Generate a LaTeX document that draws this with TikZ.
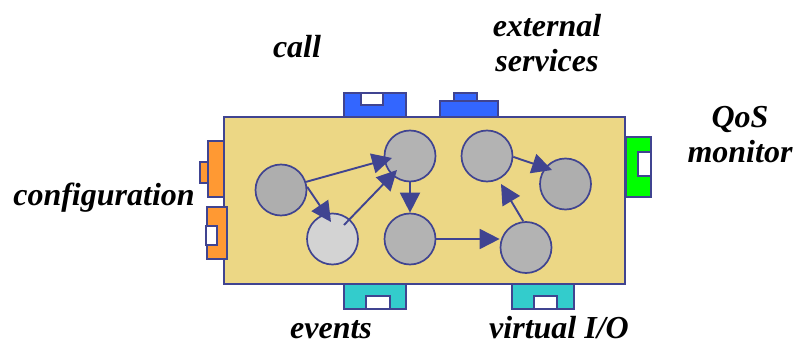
\documentclass[tikz,border=0pt]{standalone}
\usepackage{fontspec}
\setmainfont{Liberation Serif}
\newfontfamily\portfont{Liberation Serif}
\usetikzlibrary{arrows.meta,calc}
\definecolor{edge}{RGB}{64,68,145}
\definecolor{panel}{RGB}{236,215,133}
\definecolor{portblue}{RGB}{51,102,255}
\definecolor{portorange}{RGB}{255,153,51}
\definecolor{portcyan}{RGB}{51,204,204}
\definecolor{portgreen}{RGB}{0,255,0}
\definecolor{midgray}{RGB}{179,179,179}
\definecolor{softgray}{RGB}{211,211,211}
\definecolor{dotgray}{RGB}{174,174,174}
\begin{document}
\begin{tikzpicture}[x=1pt,y=-1pt,
  blob/.style={circle,draw=edge,line width=1.7pt,fill=midgray,minimum size=51pt,inner sep=0pt},
  flow/.style={draw=edge,line width=1.9pt,-{Triangle[length=20pt,width=20pt]}},
  port/.style={draw=edge,line width=1.3pt},
  hole/.style={draw=edge,line width=1.3pt,fill=white},
  lbl/.style={font=\portfont\fontsize{32}{35}\selectfont\bfseries\itshape,anchor=base,inner sep=0pt}]
\useasboundingbox (0,0) rectangle (795,350);

% component body
\draw[draw=edge,line width=1.8pt,fill=panel] (224,117) rectangle (625,284);

% call port (top)
\draw[port,fill=portblue] (344,93) rectangle (406,117);
\draw[hole] (361,93) rectangle (383,105);
% external services port (top)
\draw[port,fill=portblue] (440,101) rectangle (498,117);
\draw[port,fill=portblue] (454,93) rectangle (477,101);

% configuration ports (left)
\draw[port,fill=portorange] (208,141) rectangle (224,197);
\draw[port,fill=portorange] (200,162) rectangle (208,183);
\draw[port,fill=portorange] (207,207) rectangle (227,259);
\draw[hole] (206,226) rectangle (217,245);

% QoS monitor port (right)
\draw[port,fill=portgreen] (626,137) rectangle (651,197);
\draw[hole] (638,152) rectangle (651,176);

% events and virtual I/O ports (bottom)
\draw[port,fill=portcyan] (344,284) rectangle (406,309);
\draw[hole] (366,296) rectangle (390,309);
\draw[port,fill=portcyan] (512,284) rectangle (574,309);
\draw[hole] (534,296) rectangle (557,309);

% internal processes
\node[blob,fill=dotgray] (c1) at (281,190) {};
\node[blob] (c2) at (410,156) {};
\node[blob,fill=softgray] (c3) at (332.5,239) {};
\node[blob] (c4) at (410,239) {};
\node[blob] (c5) at (526,247.5) {};
\node[blob] (c6) at (487,156) {};
\node[blob,fill=dotgray] (c7) at (565.5,184) {};

% data flow between processes
\draw[flow] (c1.18) -- ($(c2.center)+(-18,2)$);
\draw[flow] (c1.7) -- ($(c3.center)+(-1.5,-17)$);
\draw[flow] ($(c3.center)+(11.5,-14)$) -- ($(c2.center)+(-13,14)$);
\draw[flow] (c2.south) -- (c4.north);
\draw[flow] (c4.east) -- (c4.east -| c5.west);
\draw[flow] (c5.96) -- ($(c6.center)+(14,28)$);
\draw[flow] (c6.-2) -- ($(c7.center)+(-13.5,-14)$);

% port labels
\node[lbl] (tcall) at (297,58) {call};
\node[lbl] (text1) at (547,37) {external};
\node[lbl] (text2) at (547,72) {services};
\node[lbl] (tqos1) at (740,128) {QoS};
\node[lbl] (tqos2) at (740,162) {monitor};
\node[lbl] (tconf) at (104,205) {configuration};
\node[lbl] (tev) at (331,338) {events};
\node[lbl] (tvio) at (559,338) {virtual I/O};
\end{tikzpicture}
\end{document}
